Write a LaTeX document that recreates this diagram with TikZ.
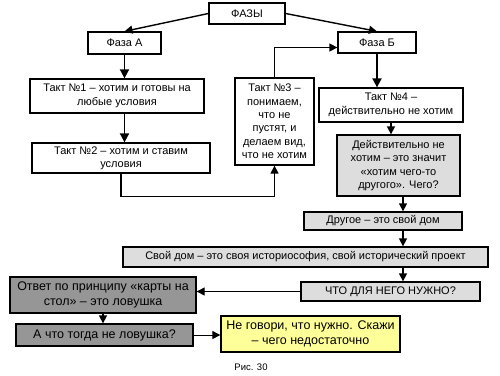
\documentclass[tikz,border=0pt]{standalone}
\usepackage{fontspec}
\setmainfont{Liberation Sans}
\usetikzlibrary{arrows.meta}
\definecolor{lgray}{RGB}{221,221,221}
\definecolor{dgray}{RGB}{150,150,150}
\definecolor{lyel}{RGB}{255,255,153}
\begin{document}
\begin{tikzpicture}[x=1pt,y=-1pt,
  box/.style={draw=black, line width=1.3pt, fill=white, inner sep=0pt, align=center,
    font=\fontsize{11}{13.4}\selectfont},
  bigtext/.style={font=\fontsize{12.5}{15.5}\selectfont},
  arr/.style={-{Triangle[length=9pt,width=9pt]}, line width=1.8pt},
  arrm/.style={-{Triangle[length=8pt,width=8pt]}, line width=1.4pt},
  arrt/.style={-{Triangle[length=8pt,width=8pt]}, line width=1pt}]
\fill[white] (0,0) rectangle (500,375);
\useasboundingbox (0,0) rectangle (500,375);

\node[box, minimum width=76pt, minimum height=21pt] (fazy) at (247,13.5) {ФАЗЫ};
\node[box, minimum width=73pt, minimum height=22pt] (fA) at (124.5,43) {Фаза А};
\node[box, minimum width=78pt, minimum height=21pt] (fB) at (377,42.5) {Фаза Б};
\node[box, minimum width=174pt, minimum height=34pt] (t1) at (117,96) {Такт №1 – хотим и готовы на\\любые условия};
\node[box, minimum width=178pt, minimum height=30pt] (t2) at (121,158) {Такт №2 – хотим и ставим\\условия};
\node[box, minimum width=79pt, minimum height=87pt] (t3) at (274.5,121.5) {Такт №3 –\\понимаем,\\что не\\пустят, и\\делаем вид,\\что не хотим};
\node[box, minimum width=144pt, minimum height=34pt] (t4) at (391,105) {Такт №4 –\\действительно не хотим};
\node[box, fill=lgray, minimum width=123pt, minimum height=61pt] (d) at (398.5,165.5) {Действительно не\\хотим – это значит\\«хотим чего-то\\другого». Чего?};
\node[box, fill=lgray, minimum width=158pt, minimum height=18pt] (dr) at (383,221) {Другое – это свой дом};
\node[box, fill=lgray, minimum width=365pt, minimum height=20pt] (sd) at (305.5,257) {Свой дом – это своя историософия, свой исторический проект};
\node[box, fill=lgray, minimum width=179pt, minimum height=19pt] (chto) at (390.5,291.5) {ЧТО ДЛЯ НЕГО НУЖНО?};
\node[box, bigtext, fill=dgray, minimum width=186pt, minimum height=36pt] (otv) at (103,295) {Ответ по принципу «карты на\\стол» – это ловушка};
\node[box, bigtext, fill=dgray, minimum width=177pt, minimum height=22pt] (atd) at (104.5,335) {А что тогда не ловушка?};
\node[box, bigtext, fill=lyel, minimum width=179pt, minimum height=36pt] (yel) at (310.5,334) {Не говори, что нужно. Скажи\\– чего недостаточно};
\node[font=\fontsize{9.5}{11}\selectfont, inner sep=0pt] (ris) at (251,367) {Рис. 30};

\coordinate (col) at (403,0);

\draw[arrm] (fazy.west) -- (fA.north);
\draw[arrm] (fazy.east) -- (fB.north);
\draw[arr] (fA.south) -- (fA.south |- t1.north);
\draw[arr] (fA.south |- t1.south) -- (fA.south |- t2.north);
\draw[arrm] (t2.south) -- ++(0,23) -| (t3.south);
\draw[arrm] (t3.north) |- ([yshift=-5pt]fB.west);
\draw[arr] (fB.south) -- (fB.south |- t4.north);
\draw[arrm] (t4.south) -- (t4.south |- d.north);
\draw[arrm] (col |- d.south) -- (col |- dr.north);
\draw[arrm] (col |- dr.south) -- (col |- sd.north);
\draw[arrm] (col |- sd.south) -- (col |- chto.north);
\draw[arrt] (chto.west) -- (chto.west -| otv.east);
\draw[arrm] (otv.south) -- (otv.south |- atd.north);
\draw[arrt] (atd.east) -- (atd.east -| yel.west);
\end{tikzpicture}
\end{document}
